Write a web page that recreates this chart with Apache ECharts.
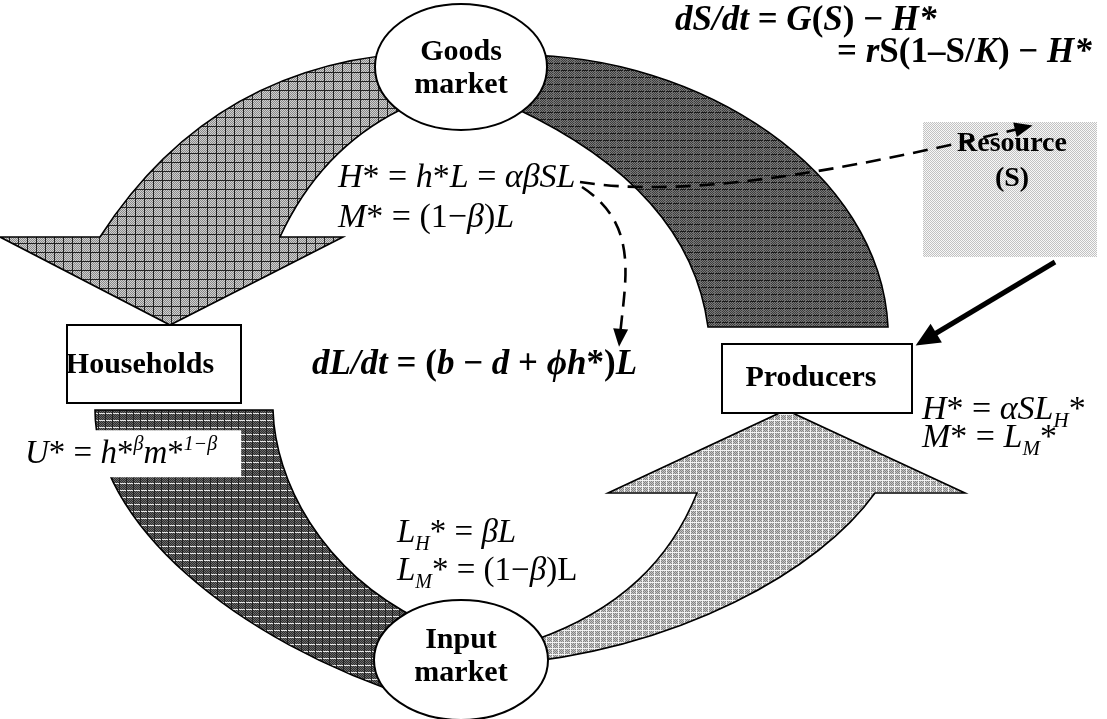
<!DOCTYPE html>
<html>
<head>
<meta charset="utf-8">
<script src="https://cdn.jsdelivr.net/npm/echarts@6/dist/echarts.min.js"></script>
<style>
  html, body { margin: 0; padding: 0; background: #fff; }
  #main { width: 1107px; height: 719px; }
</style>
</head>
<body>
<div id="main"></div>
<script>
// ---- diagram content ----
var nodeNames = ['Goods\nmarket', 'Input\nmarket', 'Households', 'Producers', 'Resource\n(S)'];
var nodeShape = ['ellipse', 'ellipse', 'box', 'box', 'resource'];

var flowNames = ['Goods market → Households', 'Producers → Goods market',
                 'Households → Input market', 'Input market → Producers'];

var formulaText = [
  '{bi|dS/dt}{b| = }{bi|G}{b|(}{bi|S}{b|) − }{bi|H*}',
  '{b|= }{bi|r}{b|S(1–S/}{bi|K}{b|) − }{bi|H*}',
  '{i|H}{r|* = }{i|h}{r|*}{i|L}{r| = }{i|αβSL}',
  '{i|M}{r|* = (1−}{i|β}{r|)}{i|L}',
  '{bi|dL/dt}{b| = (}{bi|b}{b| − }{bi|d}{b| + }{bi|ϕh}{b|*)}{bi|L}',
  '{i|U}{r|* = }{i|h}{r|*}{sup|β}{i|m}{r|*}{sup|1−β}',
  '{i|H}{r|* = }{i|αSL}{sub|H}{r|*}',
  '{i|M}{r|* = }{i|L}{sub|M}{r|*}',
  '{i|L}{sub|H}{r|* = }{i|βL}',
  '{i|L}{sub|M}{r|* = (1−}{i|β}{r|)L}'
];

// ---- layout (pixel units of the hidden axes) ----
var nodeX = [461, 461, 154, 817, 1010];
var nodeY = [67, 660, 364, 378.5, 189.5];
var nodeW = [172, 174, 174, 190, 174];
var nodeH = [126, 120, 78, 69, 135];
var labelX = [461, 461, 140, 811, 1012];
var labelY = [69, 657, 365, 378, 161];

var formulaX = [675, 837, 338, 338, 312, 25, 922, 922, 397, 397];
var formulaY = [33, 65, 190, 230, 377, 465, 422, 450, 545, 583];   // baselines
var formulaSize = [35, 35, 34, 34, 35, 33, 34, 34, 33, 33];

var flowPath = [
  [['M', 430, 52], ['Q', 215, 58, 100, 237], ['L', 0, 237], ['L', 170, 325], ['L', 343, 237],
   ['L', 280, 237], ['Q', 320, 150, 400, 110], ['Z']],
  [['M', 520, 55], ['C', 700, 55, 880, 170, 888, 327], ['L', 708, 327],
   ['Q', 690, 190, 515, 108], ['Z']],
  [['M', 95, 410], ['L', 273, 410], ['C', 275, 480, 320, 570, 420, 620], ['L', 420, 700],
   ['C', 230, 640, 95, 520, 95, 410], ['Z']],
  [['M', 500, 665], ['C', 680, 650, 820, 570, 875, 493], ['L', 965, 493], ['L', 786, 410],
   ['L', 608, 493], ['L', 697, 493], ['C', 670, 560, 620, 610, 535, 640], ['Z']]
];

var connPath = [
  [['M', 580, 182], ['C', 680, 198, 830, 175, 1022, 128]],
  [['M', 582, 187], ['C', 640, 225, 625, 280, 620, 336]],
  [['M', 1055, 262], ['L', 928, 338]]
];
var connDashed = [true, true, false];

var FAM = '"Liberation Serif", "Times New Roman", serif';

function hatch(size, c1, c2, hLine, vLine) {
  var cv = document.createElement('canvas');
  cv.width = cv.height = size;
  var g = cv.getContext('2d');
  for (var y = 0; y < size; y++) {
    for (var x = 0; x < size; x++) {
      g.fillStyle = (x + y) % 2 ? c1 : c2;
      g.fillRect(x, y, 1, 1);
    }
  }
  if (hLine) { g.fillStyle = hLine; g.fillRect(0, 0, size, 1); }
  if (vLine) { g.fillStyle = vLine; g.fillRect(0, 0, 1, size); }
  return { image: cv, repeat: 'repeat' };
}

var flowFill = [
  hatch(9, '#d0d0d0', '#8a8a8a', '#222', '#222'),
  hatch(7, '#7a7a7a', '#3c3c3c', '#1a1a1a', '#6a6a6a'),
  hatch(7, '#6a6a6a', '#2e2e2e', '#e6e6e6', '#222'),
  hatch(6, '#c4c4c4', '#848484', '#f2f2f2', '#f2f2f2')
];
var resourceFill = hatch(4, '#f8f8f8', '#c2c2c2', null, null);

function toPath(segs, api) {
  var d = '';
  segs.forEach(function (s) {
    d += s[0];
    for (var k = 1; k < s.length; k += 2) {
      var c = api.coord([s[k], s[k + 1]]);
      d += ' ' + c[0].toFixed(1) + ' ' + c[1].toFixed(1);
    }
    d += ' ';
  });
  return d;
}

function richFor(fs) {
  var lh = Math.round(fs * 1.25), ss = Math.round(fs * 0.62);
  function st(o) {
    var s = { fontFamily: FAM, fontSize: fs, lineHeight: lh, fill: '#000' };
    for (var k in o) s[k] = o[k];
    return s;
  }
  return {
    r: st({}),
    i: st({ fontStyle: 'italic' }),
    b: st({ fontWeight: 'bold' }),
    bi: st({ fontWeight: 'bold', fontStyle: 'italic' }),
    sub: st({ fontStyle: 'italic', fontSize: ss, lineHeight: ss, verticalAlign: 'bottom' }),
    sup: st({ fontStyle: 'italic', fontSize: ss, lineHeight: ss, verticalAlign: 'top' })
  };
}

var myChart = echarts.init(document.getElementById('main'));
var option = {
  animation: false,
  grid: { left: 0, right: 0, top: 0, bottom: 0 },
  xAxis: { type: 'value', min: 0, max: 1107, show: false },
  yAxis: { type: 'value', min: 0, max: 719, inverse: true, show: false },
  series: [
    {
      // the four circular-flow bands
      type: 'custom',
      z: 1,
      data: flowNames.map(function (n, i) { return [i, 0]; }),
      renderItem: function (params, api) {
        var i = params.dataIndex;
        return {
          type: 'path',
          shape: { pathData: toPath(flowPath[i], api) },
          style: { fill: flowFill[i], stroke: '#000', lineWidth: 1.6 }
        };
      }
    },
    {
      // markets, agents, resource
      type: 'custom',
      z: 2,
      data: nodeNames.map(function (n, i) { return [nodeX[i], nodeY[i]]; }),
      renderItem: function (params, api) {
        var i = params.dataIndex;
        var c = api.coord([nodeX[i], nodeY[i]]);
        var w = nodeW[i], h = nodeH[i];
        var kids = [];
        if (nodeShape[i] === 'ellipse') {
          kids.push({ type: 'ellipse', shape: { cx: c[0], cy: c[1], rx: w / 2, ry: h / 2 },
                      style: { fill: '#fff', stroke: '#000', lineWidth: 2 } });
        } else if (nodeShape[i] === 'box') {
          kids.push({ type: 'rect', shape: { x: c[0] - w / 2, y: c[1] - h / 2, width: w, height: h },
                      style: { fill: '#fff', stroke: '#000', lineWidth: 2 } });
        } else {
          kids.push({ type: 'rect', shape: { x: c[0] - w / 2, y: c[1] - h / 2, width: w, height: h },
                      style: { fill: resourceFill } });
        }
        var lp = api.coord([labelX[i], labelY[i]]);
        var fs = nodeShape[i] === 'resource' ? 28 : 30;
        kids.push({
          type: 'text', x: lp[0], y: lp[1],
          style: { text: nodeNames[i], fontFamily: FAM, fontSize: fs, fontWeight: 'bold',
                   lineHeight: nodeShape[i] === 'resource' ? 35 : 33,
                   align: 'center', verticalAlign: 'middle', fill: '#000' }
        });
        return { type: 'group', children: kids };
      }
    },
    {
      // equations
      type: 'custom',
      z: 3,
      data: formulaText.map(function (t, i) { return [formulaX[i], formulaY[i]]; }),
      renderItem: function (params, api) {
        var i = params.dataIndex;
        var fs = formulaSize[i];
        var p = api.coord([formulaX[i], formulaY[i]]);
        var x = p[0];
        var style = { text: formulaText[i], rich: richFor(fs), fontFamily: FAM, fontSize: fs,
                      align: 'left', verticalAlign: 'middle', fill: '#000' };
        if (i === 5) {
          // utility label sits on a white patch over the band
          style.backgroundColor = '#fff';
          style.padding = [4, 24, 2, 25];
          x -= 25;
        }
        return { type: 'text', x: x, y: p[1] - fs * 0.34, style: style };
      }
    },
    {
      // dashed links and the resource arrow
      type: 'custom',
      z: 4,
      data: connPath.map(function (s, i) { return [i, 0]; }),
      renderItem: function (params, api) {
        var i = params.dataIndex;
        var segs = connPath[i];
        var last = segs[segs.length - 1];
        var n = last.length;
        var end = api.coord([last[n - 2], last[n - 1]]);
        var prev = n > 3 ? api.coord([last[n - 4], last[n - 3]]) : api.coord([segs[0][1], segs[0][2]]);
        var dx = end[0] - prev[0], dy = end[1] - prev[1];
        var len = Math.sqrt(dx * dx + dy * dy);
        dx /= len; dy /= len;
        var hl = connDashed[i] ? 18 : 24, hw = connDashed[i] ? 7.5 : 11;
        var tip = [end[0] + dx * hl * 0.6, end[1] + dy * hl * 0.6];
        var base = [tip[0] - dx * hl, tip[1] - dy * hl];
        return {
          type: 'group',
          children: [
            { type: 'path', shape: { pathData: toPath(segs, api) },
              style: { fill: 'none', stroke: '#000', lineWidth: connDashed[i] ? 2.6 : 5,
                       lineDash: connDashed[i] ? [15, 9] : null } },
            { type: 'polygon',
              shape: { points: [tip, [base[0] - dy * hw, base[1] + dx * hw], [base[0] + dy * hw, base[1] - dx * hw]] },
              style: { fill: '#000' } }
          ]
        };
      }
    }
  ]
};
myChart.setOption(option);
</script>
</body>
</html>
